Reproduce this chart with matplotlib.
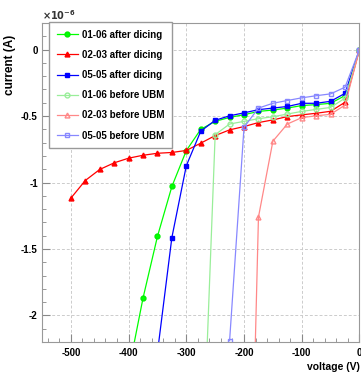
import numpy as np
import matplotlib
matplotlib.use("Agg")
import matplotlib.pyplot as plt
from matplotlib.ticker import MultipleLocator, FuncFormatter

plt.rcParams['font.family'] = ['Liberation Sans', 'DejaVu Sans']
plt.rcParams['font.weight'] = 'bold'
plt.rcParams['axes.unicode_minus'] = False

# currents in units of 1e-6 A, voltages in V
v_0106_after = [-400, -375, -350, -325, -300, -275, -250, -225, -200, -175, -150, -125, -100, -75, -50, -25, 0]
i_0106_after = [-2.42, -1.87, -1.406, -1.03, -0.76, -0.60, -0.54, -0.51, -0.49, -0.465, -0.455, -0.44, -0.421, -0.414, -0.404, -0.346, 0.0]

v_0203_after = [-500, -475, -450, -425, -400, -375, -350, -325, -300, -275, -250, -225, -200, -175, -150, -125, -100, -75, -50, -25, 0]
i_0203_after = [-1.118, -0.985, -0.902, -0.852, -0.817, -0.795, -0.78, -0.774, -0.759, -0.704, -0.647, -0.604, -0.579,
                -0.549, -0.529, -0.504, -0.491, -0.479, -0.464, -0.396, 0.0]

v_0505_after = [-350, -325, -300, -275, -250, -225, -200, -175, -150, -125, -100, -75, -50, -25, 0]
i_0505_after = [-2.28, -1.414, -0.874, -0.614, -0.532, -0.498, -0.476, -0.452, -0.44, -0.428, -0.404, -0.404, -0.389, -0.329, 0.0]

v_0106_before = [-275, -250, -225, -200, -175, -150, -125, -100, -75, -50, -25, 0]
i_0106_before = [-3.5, -0.64, -0.56, -0.54, -0.52, -0.505, -0.485, -0.465, -0.45, -0.435, -0.365, 0.0]

v_0203_before = [-200, -175, -150, -125, -100, -75, -50, -25, 0]
i_0203_before = [-5.6, -1.26, -0.689, -0.56, -0.512, -0.498, -0.487, -0.417, 0.0]

v_0505_before = [-225, -200, -175, -150, -125, -100, -75, -50, -25, 0]
i_0505_before = [-2.19, -0.584, -0.44, -0.404, -0.383, -0.363, -0.347, -0.333, -0.283, 0.0]

fig = plt.figure(figsize=(3.61, 3.73), dpi=100)
ax = fig.add_axes([0.1163, 0.0831, 0.8795, 0.8552])

ax.plot(v_0106_after, i_0106_after, color='#00ff00', lw=0.9, marker='o', ms=3.5, mec='#00ee00', label='01-06 after dicing')
ax.plot(v_0203_after, i_0203_after, color='#ff0000', lw=0.9, marker='^', ms=3.5, label='02-03 after dicing')
ax.plot(v_0505_after, i_0505_after, color='#0000ff', lw=0.9, marker='s', ms=3.5, label='05-05 after dicing')
ax.plot(v_0106_before, i_0106_before, color='#99ee99', lw=0.9, marker='o', ms=3.5, mfc='none', label='01-06 before UBM')
ax.plot(v_0203_before, i_0203_before, color='#ff8888', lw=0.9, marker='^', ms=3.5, mfc='none', label='02-03 before UBM')
ax.plot(v_0505_before, i_0505_before, color='#8888ff', lw=0.9, marker='s', ms=3.5, mfc='none', label='05-05 before UBM')

ax.set_xlim(-550, 0)
ax.set_ylim(-2.2, 0.2)
ax.xaxis.set_major_locator(MultipleLocator(100))
ax.xaxis.set_minor_locator(MultipleLocator(20))
ax.yaxis.set_major_locator(MultipleLocator(0.5))
ax.yaxis.set_minor_locator(MultipleLocator(0.1))
ax.yaxis.set_major_formatter(FuncFormatter(lambda y, p: '%g' % y))
ax.xaxis.set_major_formatter(FuncFormatter(lambda x, p: '%g' % x))

ax.tick_params(which='both', direction='in', color='#888888', labelsize=7)
ax.tick_params(which='major', length=6)
ax.tick_params(which='minor', length=3)
ax.tick_params(axis='x', pad=4)
ax.tick_params(axis='y', pad=3)
for s in ax.spines.values():
    s.set_color('#999999')

ax.grid(True, which='major', color='#cccccc', ls=(0, (3, 2)), lw=0.7)
ax.set_axisbelow(True)

ax.set_xlabel('voltage (V)', loc='right', fontsize=7.5, fontweight='bold', labelpad=3)
ax.set_ylabel('current (A)', loc='top', fontsize=8.5, fontweight='bold')
ax.yaxis.set_label_coords(-0.082, 0.962)
ax.text(0.0, 1.003, r'$\times10^{-6}$', transform=ax.transAxes, fontsize=7, ha='left', va='bottom',
        color='#333333')

leg = ax.legend(loc='upper left', bbox_to_anchor=(0.022, 1.004), borderaxespad=0, fontsize=7,
                fancybox=False, edgecolor='#999999', framealpha=1, labelspacing=1.05,
                handlelength=2.2, handletextpad=0.4, borderpad=0.8)
leg.get_frame().set_linewidth(1.0)

fig.savefig('out.png', dpi=100)
